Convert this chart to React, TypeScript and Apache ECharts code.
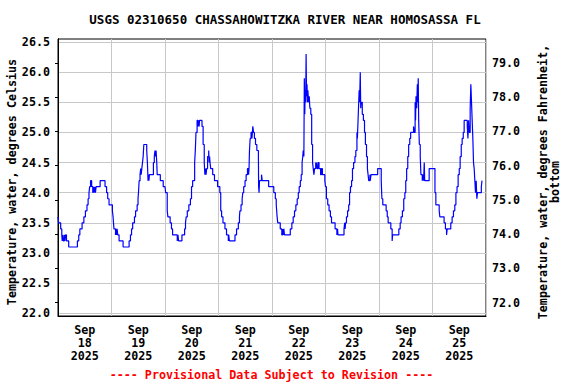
import React, { useEffect, useRef } from 'react';
import * as echarts from 'echarts';

// ---- data: [hour of day, water temperature °C] ----
const sep18: [number, number][] = [
  [0, 23.6], [0.3, 23.5], [1.2, 23.4], [1.7, 23.3], [1.9, 23.2], [2.1, 23.3], [2.4, 23.2], [2.8, 23.3], [3.1, 23.2], [3.4, 23.3], [3.8, 23.2], [4.8, 23.1],
  [8.7, 23.2], [9.3, 23.3], [9.8, 23.4], [10.8, 23.5], [11.6, 23.6], [12.3, 23.7], [13.0, 23.8], [13.5, 23.9], [13.9, 24.0], [14.2, 24.1], [14.6, 24.2],
  [15.1, 24.1], [15.6, 24.0], [15.9, 24.1], [16.2, 24.0], [16.5, 24.1], [16.8, 24.0], [17.1, 24.1], [18.9, 24.2], [21.1, 24.1], [21.8, 24.0], [22.3, 23.9], [22.9, 23.8],
];
const sep19: [number, number][] = [
  [0.0, 23.8], [0.4, 23.7], [0.7, 23.6], [0.9, 23.5], [1.1, 23.4], [1.8, 23.3], [2.0, 23.4], [2.3, 23.3], [2.5, 23.4], [2.8, 23.3], [3.4, 23.2], [5.2, 23.1],
  [7.9, 23.2], [8.5, 23.3], [9.0, 23.4], [9.5, 23.5], [10.3, 23.6], [10.8, 23.7], [11.5, 23.8], [11.9, 23.9], [12.1, 24.0], [12.4, 24.2], [12.8, 24.3],
  [13.1, 24.4], [13.3, 24.3], [13.6, 24.4], [13.9, 24.5], [14.2, 24.6], [14.5, 24.8], [15.8, 24.7], [16.1, 24.5], [16.4, 24.2], [16.6, 24.3], [16.8, 24.2],
  [17.0, 24.3], [18.8, 24.5], [19.2, 24.6], [19.5, 24.7], [19.8, 24.6], [20.0, 24.7], [20.3, 24.5], [20.5, 24.3], [21.9, 24.2], [23.2, 24.1],
];
const sep20: [number, number][] = [
  [0, 24.1], [0.3, 24.0], [1.0, 23.7], [1.3, 23.6], [2.3, 23.5], [2.9, 23.4], [3.4, 23.3], [5.5, 23.2], [5.8, 23.3], [6.1, 23.2], [7.6, 23.3], [8.8, 23.4],
  [9.2, 23.5], [9.5, 23.6], [10.0, 23.7], [10.7, 23.8], [11.4, 23.9], [11.9, 24.1], [12.4, 24.2], [13.3, 24.5], [13.6, 24.7], [13.9, 25.0], [14.4, 25.2],
  [14.8, 25.1], [15.0, 25.2], [15.3, 25.1], [15.5, 25.2], [16.6, 25.1], [17.1, 24.8], [17.6, 24.5], [17.9, 24.3], [18.2, 24.4], [18.4, 24.3], [18.7, 24.4],
  [19.1, 24.6], [19.6, 24.7], [19.8, 24.5], [20.0, 24.6], [20.2, 24.5], [20.5, 24.4], [21.4, 24.3], [22.2, 24.2], [23.6, 24.1],
];
const sep21: [number, number][] = [
  [0, 24.1], [0.6, 24.0], [1.0, 23.7], [1.4, 23.6], [2.0, 23.5], [2.9, 23.4], [3.6, 23.3], [4.4, 23.2], [4.6, 23.3], [4.9, 23.2], [7.4, 23.3], [8.1, 23.4],
  [8.9, 23.5], [9.4, 23.6], [9.6, 23.7], [10.1, 23.8], [10.6, 23.9], [10.9, 24.0], [11.3, 24.1], [11.9, 24.2], [12.4, 24.3], [13.0, 24.4], [13.5, 24.3],
  [13.7, 24.4], [13.9, 24.7], [14.2, 24.9], [14.6, 25.0], [15.0, 24.9], [15.2, 25.0], [15.4, 25.1], [15.7, 25.0], [16.1, 24.9], [16.6, 24.8], [17.2, 24.7],
  [17.9, 24.6], [18.0, 24.1], [18.2, 24.0], [18.4, 24.2], [19.3, 24.3], [19.6, 24.2], [22.5, 24.1],
];
const sep22: [number, number][] = [
  [0, 24.1], [0.8, 24.0], [1.5, 23.9], [1.9, 23.8], [2.1, 23.7], [2.3, 23.6], [2.6, 23.5], [3.7, 23.4], [4.4, 23.3], [4.8, 23.4], [5.1, 23.3], [5.3, 23.4],
  [5.6, 23.3], [8.2, 23.4], [8.9, 23.5], [9.5, 23.6], [10.1, 23.7], [10.7, 23.8], [11.3, 23.9], [11.8, 24.0], [12.2, 24.1], [12.7, 24.2], [13.1, 24.3],
  [13.5, 24.5], [13.8, 24.6], [14.0, 24.7], [14.3, 24.6], [14.5, 25.9], [14.7, 25.3], [14.9, 25.7], [15.1, 25.5], [15.3, 26.3], [15.5, 25.6], [15.7, 25.8],
  [15.9, 25.5], [16.1, 25.7], [16.4, 25.5], [16.7, 25.6], [17.0, 25.4], [17.4, 25.3], [17.8, 24.8], [18.2, 24.5], [18.5, 24.4], [18.8, 24.3], [19.1, 24.4],
  [19.6, 24.5], [19.8, 24.4], [20.0, 24.5], [20.3, 24.4], [20.7, 24.5], [21.1, 24.4], [21.8, 24.3], [22.2, 24.4], [22.6, 24.3], [23.7, 24.2],
];
const sep23: [number, number][] = [
  [0, 24.1], [0.4, 23.9], [1.0, 23.8], [1.6, 23.7], [2.2, 23.6], [2.7, 23.5], [4.3, 23.4], [5.1, 23.3], [5.4, 23.4], [5.6, 23.3], [8.3, 23.4], [8.6, 23.5],
  [8.8, 23.4], [9.0, 23.5], [9.4, 23.6], [9.9, 23.7], [10.4, 23.8], [10.8, 24.0], [11.2, 24.1], [11.7, 24.2], [12.1, 24.4], [12.6, 24.5], [13.2, 24.6],
  [13.6, 24.7], [14.1, 25.0], [14.3, 24.9], [14.5, 25.1], [14.8, 25.4], [15.1, 25.7], [15.3, 25.5], [15.6, 26.0], [15.8, 25.4], [16.0, 25.5], [16.5, 25.3],
  [17.0, 25.2], [17.5, 25.0], [17.9, 24.8], [18.4, 24.6], [18.8, 24.4], [19.1, 24.3], [19.4, 24.2], [19.9, 24.3], [20.1, 24.2], [20.4, 24.3], [23.4, 24.4],
];
const sep24: [number, number][] = [
  [0, 24.4], [1.0, 24.2], [1.3, 23.9], [1.7, 23.8], [3.2, 23.7], [3.7, 23.6], [4.1, 23.5], [5.3, 23.4], [5.9, 23.2], [6.1, 23.3], [8.9, 23.4], [9.5, 23.5],
  [9.9, 23.6], [10.5, 23.7], [11.1, 23.9], [11.6, 24.0], [12.0, 24.2], [12.4, 24.4], [12.9, 24.6], [13.3, 24.8], [13.8, 24.9], [14.2, 25.0], [15.5, 25.1],
  [15.8, 25.0], [16.2, 25.5], [16.4, 25.2], [16.6, 25.6], [16.9, 25.4], [17.2, 25.8], [17.4, 25.5], [17.6, 25.9], [17.8, 25.2], [18.1, 24.8], [18.5, 24.6],
  [18.8, 24.3], [19.4, 24.2], [19.7, 24.3], [20.0, 24.2], [20.3, 24.5], [20.5, 24.2], [22.5, 24.4],
];
const sep25: [number, number][] = [
  [0, 24.4], [1.1, 24.0], [1.5, 23.8], [3.0, 23.7], [3.3, 23.6], [5.2, 23.5], [5.8, 23.4], [6.3, 23.3], [6.6, 23.4], [8.2, 23.5], [8.8, 23.6], [9.4, 23.7],
  [10.0, 23.8], [10.5, 24.0], [11.0, 24.1], [11.5, 24.3], [12.0, 24.4], [12.4, 24.6], [12.9, 24.8], [13.3, 24.9], [13.8, 25.0], [14.2, 25.2], [15.6, 25.1],
  [15.9, 24.9], [16.2, 25.2], [16.5, 25.0], [16.9, 25.4], [17.2, 25.8], [17.5, 25.5], [17.8, 25.2], [18.1, 24.9], [18.4, 24.5], [18.7, 24.4], [19.0, 24.2],
  [19.3, 24.0], [19.6, 24.2], [19.9, 23.9], [20.2, 24.0], [21.9, 24.1], [22.2, 24.2], [22.5, 24.2],
];

const dayLabels = ['18', '19', '20', '21', '22', '23', '24', '25'];
const monthLabel = 'Sep';
const yearLabel = '2025';
const celsiusTicks = [22.0, 22.5, 23.0, 23.5, 24.0, 24.5, 25.0, 25.5, 26.0, 26.5];
const fahrenheitTicks = [72, 73, 74, 75, 76, 77, 78, 79];
const celsiusRange = [21.955, 26.55];
const fahrenheitRange = [71.61, 79.7];

const titleText = 'USGS 02310650 CHASSAHOWITZKA RIVER NEAR HOMOSASSA FL';
const leftName = 'Temperature, water, degrees Celsius';
const rightName = 'Temperature, water, degrees Fahrenheit,\nbottom';
const footerText = '---- Provisional Data Subject to Revision ----';

const FONT = '"DejaVu Sans Mono", monospace';

export default function App() {
  const ref = useRef<HTMLDivElement>(null);
  useEffect(() => {
    const chart = echarts.init(ref.current!, null, { renderer: 'svg' });
    const days = [sep18, sep19, sep20, sep21, sep22, sep23, sep24, sep25];
    const data = days.flatMap((d, i) => d.map(([h, v]) => [i * 24 + h, v]));
    const labelStyle = { color: '#000', fontFamily: FONT, fontWeight: 'bold' as const, fontSize: 11.7 };
    const option: any = {
      animation: false,
      backgroundColor: '#fff',
      grid: {
        left: 58, right: 90, top: 39, bottom: 68,
        show: true, borderColor: '#000', borderWidth: 1, backgroundColor: 'transparent',
        containLabel: false, outerBoundsMode: 'none',
      },
      xAxis: [
        {
          type: 'value', min: 0, max: 192, interval: 24, position: 'bottom',
          axisLine: { show: true, lineStyle: { color: '#000', width: 1 } },
          axisTick: { show: false }, axisLabel: { show: false },
          splitLine: { show: true, lineStyle: { color: '#c8c8c8', width: 1 } },
        },
        {
          type: 'value', min: 0, max: 192, interval: 12, position: 'bottom',
          axisLine: { show: false }, axisTick: { show: false }, splitLine: { show: false },
          axisLabel: {
            ...labelStyle, margin: 7, lineHeight: 13, hideOverlap: false,
            formatter: (v: number) => (v % 24 === 12 ? `${monthLabel}\n${dayLabels[Math.floor(v / 24)]}\n${yearLabel}` : ''),
          },
        },
      ],
      yAxis: [
        {
          type: 'value', min: celsiusRange[0], max: celsiusRange[1], position: 'left',
          axisLine: { show: true, lineStyle: { color: '#000', width: 1 } },
          axisTick: { show: false, customValues: celsiusTicks },
          axisLabel: { ...labelStyle, margin: 8, customValues: celsiusTicks, formatter: (v: number) => v.toFixed(1) },
          splitLine: { show: true, lineStyle: { color: '#c8c8c8', width: 1 } },
        },
        {
          type: 'value', min: fahrenheitRange[0], max: fahrenheitRange[1], position: 'right',
          axisLine: { show: true, lineStyle: { color: '#000', width: 1 } },
          axisTick: { show: true, inside: true, length: 3, customValues: fahrenheitTicks, lineStyle: { color: '#000' } },
          axisLabel: { ...labelStyle, margin: 6, customValues: fahrenheitTicks, formatter: (v: number) => v.toFixed(1) },
          splitLine: { show: false },
        },
      ],
      series: [
        {
          type: 'line', xAxisIndex: 0, yAxisIndex: 0, data, step: 'end',
          showSymbol: false, symbol: 'none',
          lineStyle: { color: '#0000ff', width: 1.2 },
        },
      ],
      graphic: [
        {
          type: 'text', x: 285, y: 19,
          style: { text: titleText, font: `bold 12.5px ${FONT}`, fill: '#000', align: 'center', verticalAlign: 'middle', textAlign: 'center', textVerticalAlign: 'middle' },
        },
        {
          type: 'text', x: 12, y: 182, rotation: Math.PI / 2,
          style: { text: leftName, font: `bold 11.7px ${FONT}`, fill: '#000', align: 'center', verticalAlign: 'middle', textAlign: 'center', textVerticalAlign: 'middle' },
        },
        {
          type: 'text', x: 549, y: 182, rotation: Math.PI / 2,
          style: { text: rightName, font: `bold 11.7px ${FONT}`, lineHeight: 12, fill: '#000', align: 'center', verticalAlign: 'middle', textAlign: 'center', textVerticalAlign: 'middle' },
        },
        {
          type: 'text', x: 271.5, y: 375,
          style: { text: footerText, font: `bold 11.7px ${FONT}`, fill: '#ff0000', align: 'center', verticalAlign: 'middle', textAlign: 'center', textVerticalAlign: 'middle' },
        },
      ],
    };
    chart.setOption(option);
    return () => chart.dispose();
  }, []);
  return <div ref={ref} style={{ position: 'absolute', left: 0, top: 0, width: 576, height: 384, background: '#fff' }} />;
}
